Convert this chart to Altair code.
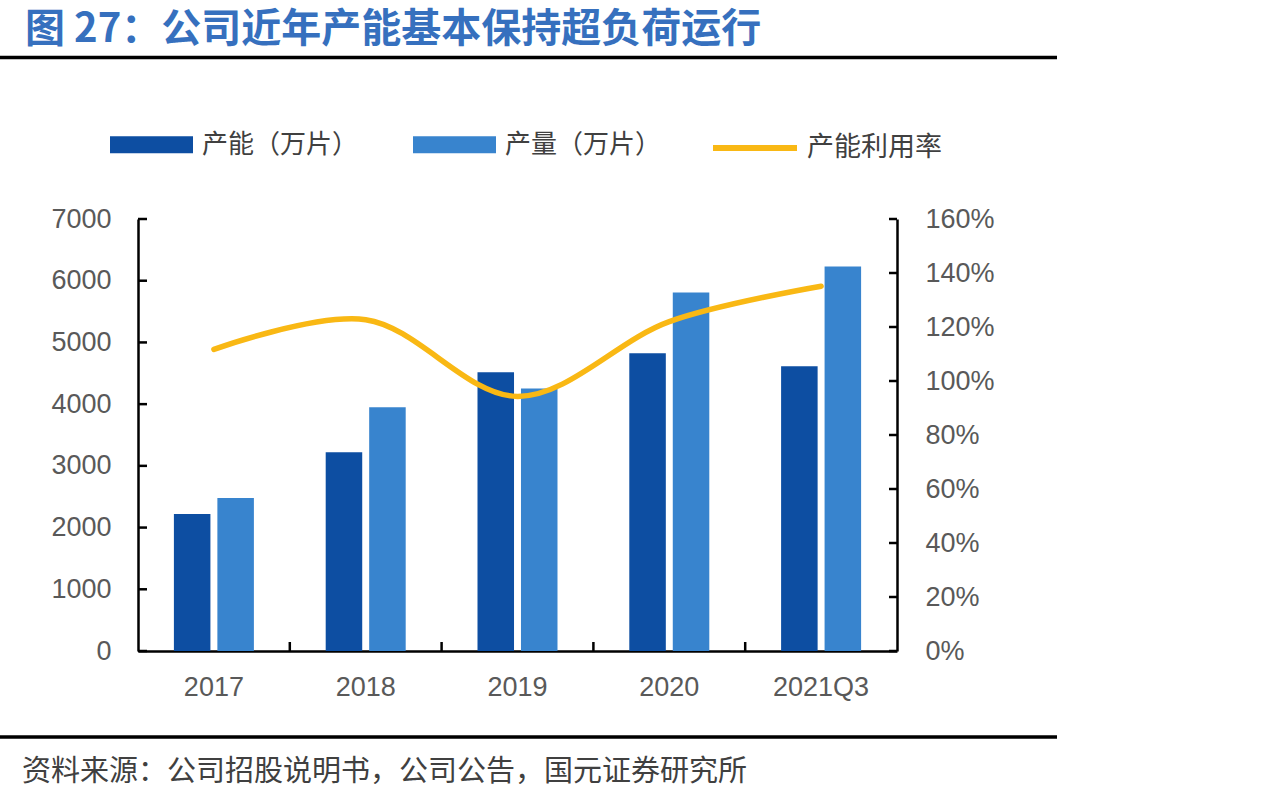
import altair as alt
import pandas as pd

# ---- data -------------------------------------------------------------
years = ["2017", "2018", "2019", "2020", "2021Q3"]
capacity = [2220, 3220, 4515, 4825, 4615]          # 产能（万片）
output = [2480, 3950, 4255, 5810, 6230]            # 产量（万片）
utilization = [1.117, 1.227, 0.943, 1.22, 1.351]   # 产能利用率

bar_series = ["产能（万片）", "产量（万片）"]
line_series = "产能利用率"

left_ticks = [0, 1000, 2000, 3000, 4000, 5000, 6000, 7000]
right_ticks = [0, 0.2, 0.4, 0.6, 0.8, 1.0, 1.2, 1.4, 1.6]

title_text = "图 27：公司近年产能基本保持超负荷运行"
source_text = "资料来源：公司招股说明书，公司公告，国元证券研究所"

# ---- styling ----------------------------------------------------------
W, H = 759, 432
PAD_INNER = 0.473
DARK, LIGHT, YELLOW = "#0D4EA2", "#3884CE", "#F9B814"
LABEL_FONT = "Liberation Sans"
CJK_FONT = "Noto Sans CJK SC"
LABEL_COLOR = "#595959"

bar_df = pd.DataFrame(
    [{"year": y, "series": bar_series[0], "value": c} for y, c in zip(years, capacity)]
    + [{"year": y, "series": bar_series[1], "value": o} for y, o in zip(years, output)]
)
line_df = pd.DataFrame({"year": years, "util": utilization, "name": line_series})

x_scale = alt.Scale(domain=years, paddingInner=PAD_INNER, paddingOuter=PAD_INNER / 2)
y_left_scale = alt.Scale(domain=[0, 7000], nice=False)
y_right_scale = alt.Scale(domain=[0, 1.6], nice=False)

x_axis = alt.Axis(
    title=None, ticks=False, tickSize=0, grid=False, labelAngle=0,
    domainColor="black", domainWidth=2.5,
    labelFont=LABEL_FONT, labelFontSize=27, labelColor=LABEL_COLOR, labelPadding=23,
)
left_axis = alt.Axis(
    title=None, orient="left", values=left_ticks, format="d",
    ticks=False, tickSize=0, grid=False,
    domainColor="black", domainWidth=2.5,
    labelFont=LABEL_FONT, labelFontSize=27, labelColor=LABEL_COLOR, labelPadding=27,
)
right_axis = alt.Axis(
    title=None, orient="right", values=right_ticks, format=".0%",
    ticks=False, tickSize=0, grid=False,
    domainColor="black", domainWidth=2.5,
    labelFont=LABEL_FONT, labelFontSize=27, labelColor=LABEL_COLOR, labelPadding=28,
)

bar_legend = alt.Legend(
    title=None, orient="none", legendX=-28, legendY=-116, direction="horizontal",
    symbolType="M-1,-0.205H1V0.205H-1Z", symbolSize=6889, symbolStrokeWidth=0,
    labelFont=CJK_FONT, labelFontSize=26, labelColor="#404040",
    labelOffset=9, columnPadding=54, labelLimit=400, padding=0,
)
line_legend = alt.Legend(
    title=None, orient="none", legendX=572, legendY=-116, direction="horizontal",
    symbolType="stroke", symbolSize=7056, symbolStrokeWidth=6,
    labelFont=CJK_FONT, labelFontSize=27, labelColor="#404040",
    labelOffset=7, labelLimit=400, padding=0,
)

x_enc = alt.X("year:N", sort=years, scale=x_scale, axis=x_axis)

bars = alt.Chart(bar_df).mark_bar().encode(
    x=x_enc,
    xOffset=alt.XOffset(
        "series:N", sort=bar_series,
        scale=alt.Scale(domain=bar_series, paddingInner=0.16, paddingOuter=0),
    ),
    y=alt.Y("value:Q", scale=y_left_scale, axis=left_axis),
    fill=alt.Fill("series:N", scale=alt.Scale(domain=bar_series, range=[DARK, LIGHT]),
                  legend=bar_legend),
)

# inward tick marks on the left value axis
left_tick_marks = alt.Chart(pd.DataFrame({"value": left_ticks})).mark_rule(
    color="black", strokeWidth=2.5
).encode(
    y=alt.Y("value:Q", scale=y_left_scale, axis=left_axis),
    x=alt.value(0), x2=alt.value(9),
)

line = alt.Chart(line_df).mark_line(
    interpolate="catmull-rom", strokeWidth=5.5, strokeCap="round"
).encode(
    x=x_enc,
    y=alt.Y("util:Q", scale=y_right_scale, axis=right_axis),
    stroke=alt.Stroke("name:N", scale=alt.Scale(domain=[line_series], range=[YELLOW]),
                      legend=line_legend),
)

# inward tick marks on the right percentage axis
right_tick_marks = alt.Chart(pd.DataFrame({"util": right_ticks})).mark_rule(
    color="black", strokeWidth=2.5
).encode(
    y=alt.Y("util:Q", scale=y_right_scale, axis=right_axis),
    x=alt.value(W - 8), x2=alt.value(W),
)

# category-boundary ticks on the x axis: band start shifted back by half the inner padding
half_gap = PAD_INNER * (W / len(years)) / 2
x_tick_marks = alt.Chart(pd.DataFrame({"year": years[1:]})).mark_rule(
    color="black", strokeWidth=2.5, xOffset=-half_gap
).encode(
    x=alt.X("year:N", sort=years, scale=x_scale, axis=x_axis, bandPosition=0),
    y=alt.value(H - 9), y2=alt.value(H),
)

one_row = alt.Data(values=[{}])

title = alt.Chart(one_row).mark_text(
    align="left", baseline="middle", font=CJK_FONT, fontSize=40,
    fontWeight="bold", color="#3670BE",
).encode(x=alt.value(-113), y=alt.value(30 - 219), text=alt.value(title_text))

source = alt.Chart(one_row).mark_text(
    align="left", baseline="middle", font=CJK_FONT, fontSize=29, color="#404040",
).encode(x=alt.value(-116), y=alt.value(772 - 219), text=alt.value(source_text))

top_rule = alt.Chart(one_row).mark_rule(color="black", strokeWidth=3.5).encode(
    x=alt.value(-138), x2=alt.value(1057 - 138), y=alt.value(57.5 - 219)
)
bottom_rule = alt.Chart(one_row).mark_rule(color="black", strokeWidth=3.5).encode(
    x=alt.value(-138), x2=alt.value(1057 - 138), y=alt.value(737 - 219)
)

left_layer = alt.layer(bars, left_tick_marks)
right_layer = alt.layer(line, right_tick_marks)

chart = (
    alt.layer(left_layer, right_layer, x_tick_marks, title, source, top_rule, bottom_rule)
    .resolve_scale(y="independent")
    .properties(
        width=W, height=H,
        autosize=alt.AutoSizeParams(type="none"),
        padding={"left": 138, "top": 219, "right": 1273 - 138 - W, "bottom": 802 - 219 - H},
        background="white",
    )
    .configure_view(stroke=None)
)

chart.save("out.html", embed_options={"renderer": "svg", "actions": False})
